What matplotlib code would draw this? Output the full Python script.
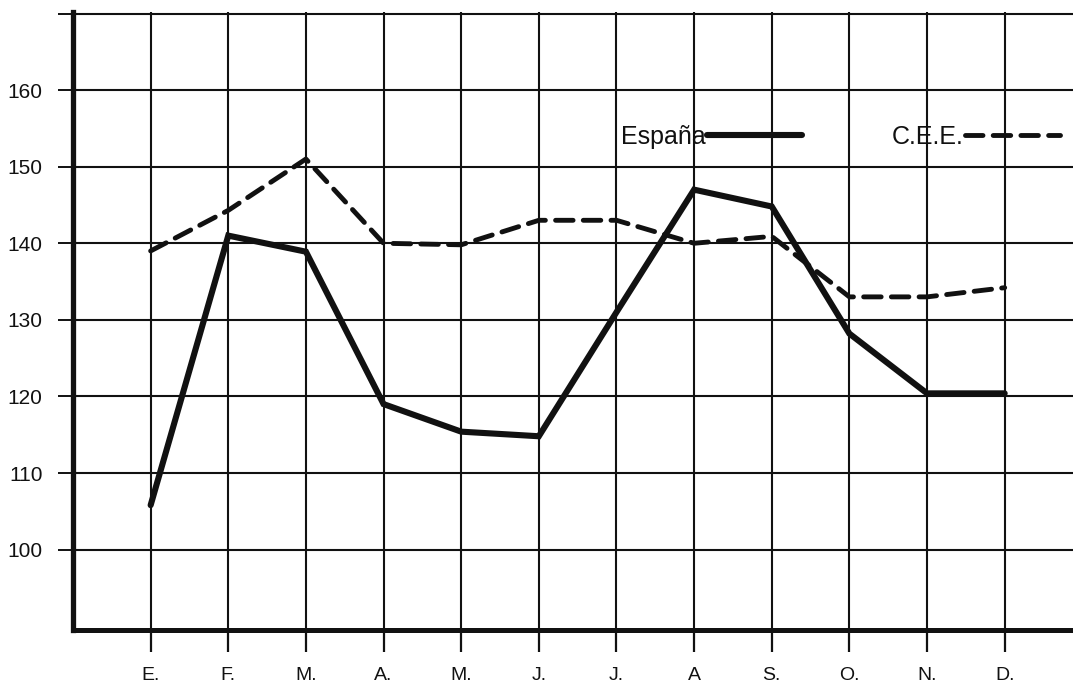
import matplotlib
matplotlib.use('Agg')
import matplotlib.pyplot as plt

plt.rcParams['font.family'] = ['Liberation Sans', 'DejaVu Sans']

# === DATA ===
months = ['E.', 'F.', 'M.', 'A.', 'M.', 'J.', 'J.', 'A', 'S.', 'O.', 'N.', 'D.']
espana = [105.8, 141.0, 138.9, 119.0, 115.4, 114.8, 131.0, 147.0, 144.8, 128.2, 120.4, 120.4]
cee = [139.0, 144.3, 151.0, 140.0, 139.8, 143.0, 143.0, 140.0, 140.9, 133.0, 133.0, 134.2]
yticks = [100, 110, 120, 130, 140, 150, 160, 170]
ytick_labels = ['100', '110', '120', '130', '140', '150', '160', '']

# === FIGURE ===
W, H = 1073, 687
fig = plt.figure(figsize=(W / 100, H / 100), dpi=100)
ax = fig.add_axes([73 / W, (H - 630) / H, 1 - 73 / W, (630 - 12) / H])

x = list(range(1, len(months) + 1))
ax.plot(x, espana, color='#111111', lw=4.4, solid_joinstyle='miter',
        solid_capstyle='round', label='España', zorder=4)
ax.plot(x, cee, color='#111111', lw=3.5, dashes=(3.6, 2.1),
        dash_capstyle='round', label='C.E.E.', zorder=4)

ax.set_xlim(0, 12.88)
ax.set_ylim(89.5, 170.2)

ax.set_xticks(x)
ax.set_xticklabels(months, fontsize=14)
ax.set_yticks(yticks)
ax.set_yticklabels(ytick_labels, fontsize=15)
ax.tick_params(axis='x', direction='out', length=16, width=1.6, pad=11, colors='#111111')
ax.tick_params(axis='y', direction='out', length=11, width=1.4, pad=11, colors='#111111')

ax.grid(True, color='#111111', lw=1.5)
ax.set_axisbelow(True)

for side in ['top', 'right']:
    ax.spines[side].set_visible(False)
ax.spines['left'].set_linewidth(3.8)
ax.spines['bottom'].set_linewidth(3.6)
ax.spines['left'].set_color('#111111')
ax.spines['bottom'].set_color('#111111')

# legend: label first, then the line sample
leg = ax.legend(loc='center left', bbox_to_anchor=(621 / W, 1 - 137 / H),
                bbox_transform=fig.transFigure, ncol=2, frameon=False,
                markerfirst=False, fontsize=18, handlelength=3.8,
                handletextpad=0.05, columnspacing=3.6, borderpad=0,
                borderaxespad=0)
for t in leg.get_texts():
    t.set_color('#111111')

fig.savefig('out.png', dpi=100)
